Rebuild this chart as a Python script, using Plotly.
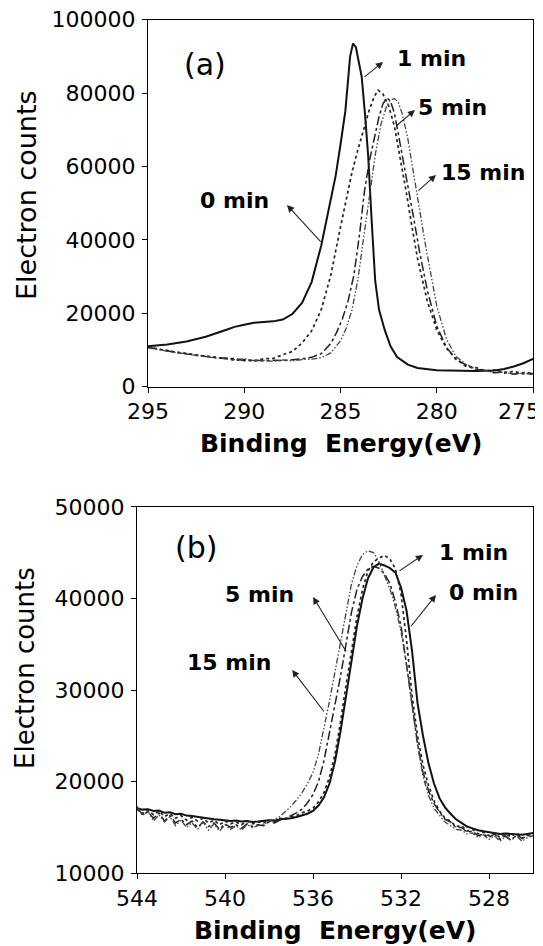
import plotly.graph_objects as go

# ---------------- (a) C1s region ----------------
a_be_0 = [295, 294, 293, 292, 291, 290.5, 290, 289.5, 289, 288.5, 288, 287.5, 287, 286.5, 286,
          285.75, 285.5, 285.25, 285, 284.75, 284.5, 284.35, 284.2, 284.05, 283.9, 283.73, 283.56,
          283.4, 283.2, 283.0, 282.7, 282.4, 282.06, 281.5, 281, 280, 279, 278, 277, 276.5, 276,
          275.5, 275]
a_cnt_0 = [11000, 11500, 12300, 13600, 15400, 16300, 16900, 17400, 17600, 17800, 18300, 19800,
           22800, 28500, 38500, 45000, 51000, 57500, 66000, 75000, 90000, 93500, 92500, 88500,
           84500, 74500, 62700, 47000, 29000, 21000, 15400, 11000, 8100, 6000, 5100, 4500, 4300,
           4300, 4400, 4800, 5500, 6400, 7600]

a_be_1 = [295, 294.5, 294, 293.5, 293, 292.5, 292, 291.5, 291, 290.5, 290, 289.5, 289, 288.5,
          288, 287.5, 287, 286.5, 286, 285.5, 285, 284.7, 284.4, 284.1, 283.8, 283.5, 283.25,
          283.05, 282.8, 282.5, 282.2, 281.9, 281.6, 281.3, 281.0, 280.5, 280.0, 279.5, 279.0,
          278.5, 278.0, 277.5, 277.0, 276.5, 276.0, 275.5, 275.0]
a_cnt_1 = [10900, 10200, 9900, 9300, 9100, 8600, 8400, 7900, 7800, 7200, 7400, 6900, 7600, 7700,
           8700, 9600, 11900, 15200, 21000, 30500, 43500, 51500, 58500, 64500, 70000, 75500,
           79000, 80800, 79800, 76500, 71000, 62500, 53500, 44000, 35000, 23500, 15500, 10500,
           7600, 5600, 5300, 4300, 4600, 3700, 4200, 3500, 3900]

a_be_5 = [295, 294.5, 294, 293.5, 293, 292.5, 292, 291.5, 291, 290.5, 290, 289.5, 289, 288.5,
          288, 287.5, 287, 286.5, 286, 285.5, 285.2, 284.9, 284.6, 284.3, 284.0, 283.75, 283.5,
          283.25, 283.0, 282.8, 282.6, 282.4, 282.2, 282.0, 281.75, 281.5, 281.2, 280.9, 280.5,
          280.0, 279.5, 279.0, 278.5, 278.0, 277.5, 277.0, 276.5, 276.0, 275.5, 275.0]
a_cnt_5 = [10700, 10400, 9700, 9500, 8900, 8700, 8200, 8100, 7600, 7700, 7100, 7300, 7000, 7200,
           7100, 7300, 7600, 8000, 9000, 11800, 14800, 18500, 23500, 30500, 42000, 53500, 61500,
           67500, 73500, 77000, 78700, 77800, 74500, 69000, 62000, 55000, 46000, 37000, 26500,
           16500, 10800, 7400, 5900, 4600, 4600, 3800, 4100, 3400, 3900, 3500]

a_be_15 = [295, 294.5, 294, 293.5, 293, 292.5, 292, 291.5, 291, 290.5, 290, 289.5, 289, 288.5,
           288, 287.5, 287, 286.5, 286, 285.5, 285.0, 284.7, 284.4, 284.1, 283.8, 283.5, 283.2,
           282.9, 282.6, 282.4, 282.2, 282.0, 281.8, 281.5, 281.2, 280.9, 280.6, 280.3, 280.0,
           279.5, 279.0, 278.5, 278.0, 277.5, 277.0, 276.5, 276.0, 275.5, 275.0]
a_cnt_15 = [10600, 10100, 9800, 9200, 9000, 8500, 8300, 7800, 7900, 7400, 7600, 7100, 7200, 6900,
            7300, 7000, 7400, 7500, 7900, 9200, 12500, 16000, 21000, 29000, 40500, 52500, 63000,
            71500, 76500, 78200, 78500, 77500, 74500, 67500, 58500, 48500, 39000, 30000, 22000,
            13000, 8200, 6200, 4800, 4500, 3700, 4000, 3400, 3700, 3300]

a_xticks = [295, 290, 285, 280, 275]
a_xticklabels = ["295", "290", "285", "280", ""]   # last label drawn separately so it stays on the page
a_last_xlabel = "275"
a_yticks = [0, 20000, 40000, 60000, 80000, 100000]

# ---------------- (b) O1s region ----------------
b_be = [544, 543.75, 543.5, 543.25, 543, 542.75, 542.5, 542.25, 542, 541.75, 541.5, 541.25,
        541, 540.75, 540.5, 540.25, 540, 539.75, 539.5, 539.25, 539, 538.75, 538.5, 538.25,
        538, 537.75, 537.5, 537.25, 537, 536.75, 536.5, 536.25, 536, 535.75, 535.5, 535.25,
        535, 534.75, 534.5, 534.25, 534, 533.75, 533.5, 533.25, 533, 532.75, 532.5, 532.25,
        532, 531.75, 531.5, 531.25, 531, 530.75, 530.5, 530.25, 530, 529.75, 529.5, 529.25,
        529, 528.75, 528.5, 528.25, 528, 527.75, 527.5, 527.25, 527, 526.75, 526.5, 526.25, 526]
b_cnt_0 = [17100, 16950, 17000, 16800, 16850, 16600, 16650, 16450, 16500, 16300, 16250, 16150,
           16100, 15950, 15900, 15850, 15800, 15700, 15750, 15650, 15700, 15600, 15650, 15700,
           15800, 15750, 15900, 15950, 16000,
           16150, 16300, 16500, 16800, 17400, 18300, 19800, 22200, 25500, 29300, 33300, 37000,
           40000, 42200, 43400, 43800, 43600, 43300, 42800, 41200, 38700, 34300, 28600, 25000,
           22000, 19800, 18200, 17200,
           16500, 15900, 15500, 15100, 14900, 14700, 14600, 14500, 14400, 14300, 14350, 14300,
           14250, 14200, 14300, 14400]
b_cnt_1 = [17000, 16500, 16900, 16400, 16800, 16200, 16500, 16000, 16300, 15800, 16100, 15700,
           16000, 15500, 15800, 15300, 15700, 15400, 15600, 15300, 15700, 15400, 15600, 15500,
           15800, 15600, 16000, 15900, 16200,
           16300, 16600, 16800, 17100, 17800, 18800, 20500, 23000, 26500, 30500, 34500, 38000,
           41000, 43000, 44000, 44400, 44700, 44300, 43200, 40500, 35500, 29500, 25000, 21800,
           19600, 17900, 16800, 16000,
           15700, 15100, 15200, 14600, 14800, 14300, 14500, 14100, 14400, 13900, 14300, 14000,
           14400, 13800, 14200, 14100]
b_cnt_5 = [17200, 16400, 16700, 16000, 16600, 15700, 16300, 15500, 15900, 15300, 15700, 15000,
           15600, 15100, 15500, 14800, 15400, 15000, 15300, 14900, 15400, 15100, 15300, 15200,
           15600, 15500, 15800, 16000, 16300,
           16600, 17000, 17700, 18600, 20000, 22300, 25300, 28400, 31500, 35000, 38500, 41000,
           42400, 43200, 43500, 43300, 42700, 41600, 39600, 37000, 33000, 28500, 24200, 21000,
           19000, 17600, 16700, 15900,
           15600, 15000, 15000, 14500, 14600, 14100, 14300, 13900, 14300, 13700, 14100, 13600,
           14200, 13800, 14100, 14200]
b_cnt_15 = [17300, 16300, 16800, 15700, 16400, 15600, 16200, 15200, 15800, 15000, 15500, 14800,
            15600, 14700, 15400, 14600, 15300, 14800, 15200, 14700, 15300, 15000, 15200, 15300,
            15700, 15900, 16200, 16700, 17300,
            18000, 18800, 19800, 21000, 23000, 25800, 28800, 32000, 35200, 38600, 41600, 43600,
            44800, 45200, 45000, 44000, 42600, 41000, 39000, 36400, 32800, 28300, 24000, 20600,
            18500, 17100, 16300, 15600,
            15200, 14800, 14700, 14300, 14400, 13900, 14200, 13700, 14100, 13500, 14000, 13600,
            14100, 13500, 13900, 14100]

b_xticks = [544, 540, 536, 532, 528]
b_yticks = [10000, 20000, 30000, 40000, 50000]

labels = ["0 min", "1 min", "5 min", "15 min"]

W, H = 543, 946
OFF = 8  # default page body margin shifts the figure by this many pixels
FONT = "DejaVu Sans"
TICK_FONT = dict(family=FONT, size=22, color="black")

fig = go.Figure()

styles = [
    dict(color="#111111", width=2.0, dash="solid"),
    dict(color="#222222", width=1.7, dash="dot"),
    dict(color="#222222", width=1.5, dash="dashdot"),
    dict(color="#444444", width=1.3, dash="6px,2px,1.5px,2px,1.5px,2px"),
]

for be, cnt, st, lab in zip([a_be_0, a_be_1, a_be_5, a_be_15],
                            [a_cnt_0, a_cnt_1, a_cnt_5, a_cnt_15], styles, labels):
    fig.add_trace(go.Scatter(x=be, y=cnt, mode="lines", line=st, name=lab,
                             xaxis="x", yaxis="y"))

for cnt, st, lab in zip([b_cnt_0, b_cnt_1, b_cnt_5, b_cnt_15], styles, labels):
    fig.add_trace(go.Scatter(x=b_be, y=cnt, mode="lines", line=st, name=lab,
                             xaxis="x2", yaxis="y2"))


def px_x(p):
    return (p - OFF) / W


def px_y(p):
    return (H - (p - OFF)) / H


axis_common = dict(showline=True, linecolor="black", linewidth=1, mirror=True,
                   ticks="outside", ticklen=5, tickwidth=1, tickcolor="black",
                   showgrid=False, zeroline=False, ticklabeloverflow="allow",
                   automargin=False, tickfont=TICK_FONT)

fig.update_layout(
    width=W, height=H,
    margin=dict(l=0, r=0, t=0, b=0, autoexpand=False),
    paper_bgcolor="white", plot_bgcolor="white",
    showlegend=False,
    xaxis=dict(domain=[px_x(148), px_x(533)], range=[295, 275], tickvals=a_xticks,
               ticktext=a_xticklabels, anchor="y", ticklabelstandoff=0, **axis_common),
    yaxis=dict(domain=[px_y(386.7), px_y(19.7)], range=[0, 100000], tickvals=a_yticks,
               tickformat="d", anchor="x", ticklabelstandoff=2, **axis_common),
    xaxis2=dict(domain=[px_x(137), px_x(533)], range=[544, 526], tickvals=b_xticks,
                anchor="y2", ticklabelstandoff=0, **axis_common),
    yaxis2=dict(domain=[px_y(873.3), px_y(506.8)], range=[10000, 50000], tickvals=b_yticks,
                tickformat="d", anchor="x2", ticklabelstandoff=2, **axis_common),
)

ann = []
# last tick label of panel (a), kept inside the page edge
ann.append(dict(text=a_last_xlabel, xref="paper", yref="paper", x=px_x(542), y=px_y(411),
                xanchor="right", yanchor="middle", showarrow=False, font=TICK_FONT))
# axis titles
for xc, yc, fs in ((26, 195, 27), (25, 668, 26)):
    ann.append(dict(text="Electron counts", xref="paper", yref="paper",
                    x=px_x(xc), y=px_y(yc), showarrow=False,
                    textangle=-90, font=dict(family=FONT, size=fs, color="black"),
                    xanchor="center", yanchor="middle"))
for xc, yc in ((341, 443), (335, 930)):
    ann.append(dict(text="Binding  Energy(eV)", xref="paper", yref="paper",
                    x=px_x(xc), y=px_y(yc), showarrow=False,
                    font=dict(family=FONT, size=25, color="black", weight="bold"),
                    xanchor="center", yanchor="middle"))

# panel letters
ann.append(dict(text="(a)", xref="x", yref="y", x=292.04, y=87900, showarrow=False,
                font=dict(family=FONT, size=30, color="black")))
ann.append(dict(text="(b)", xref="x2", yref="y2", x=541.32, y=45530, showarrow=False,
                font=dict(family=FONT, size=30, color="black")))

lab_font = dict(family=FONT, size=22, color="black", weight="bold")

# (text, text_x, text_y, head_x, head_y, tail_x, tail_y)
a_labels = [
    ("1 min", 280.25, 89550, 282.79, 88470, 283.83, 84100),
    ("5 min", 279.16, 76200, 281.13, 75400, 282.17, 70760),
    ("15 min", 277.6, 58500, 280.04, 57700, 281.03, 53050),
    ("0 min", 290.53, 50870, 287.78, 49500, 285.96, 39150),
]
b_labels = [
    ("1 min", 528.72, 44980, 531.0, 44750, 532.14, 42900),
    ("0 min", 528.23, 40600, 530.41, 40380, 531.6, 36800),
    ("5 min", 538.45, 40380, 536.0, 40160, 534.45, 34050),
    ("15 min", 539.82, 33060, 536.95, 32200, 535.45, 27500),
]
for xr, yr, lst in (("x", "y", a_labels), ("x2", "y2", b_labels)):
    for t, tx, ty, hx, hy, sx, sy in lst:
        ann.append(dict(text=t, xref=xr, yref=yr, x=tx, y=ty, showarrow=False,
                        font=lab_font))
        ann.append(dict(text="", xref=xr, yref=yr, x=hx, y=hy, axref=xr, ayref=yr,
                        ax=sx, ay=sy, showarrow=True, arrowhead=2, arrowsize=1.3,
                        arrowwidth=1.1, arrowcolor="#222222"))

fig.update_layout(annotations=ann)

fig.write_html("out.html")
